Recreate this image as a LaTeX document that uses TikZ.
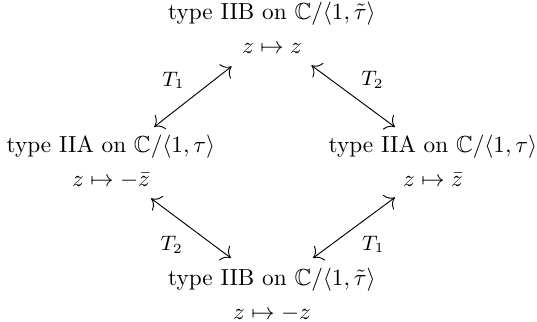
\documentclass[tikz,border=0pt]{standalone}
\usepackage{amsmath,amssymb}
\usepackage{tikz}
\usetikzlibrary{arrows.meta, positioning, calc}
\tikzset{
  dual-title/.style={inner sep=0pt, anchor=base},
  dual-map/.style={inner sep=0pt, text height=1.5ex, text depth=.25ex},
  dual-flow/.style={{To[scale=1.5]}-{To[scale=1.5]}, thin},
  dual-lbl/.style={font=\small},
}

\begin{document}
\begin{tikzpicture}[x=0.43pt, y=0.43pt, node distance=5pt]
  \useasboundingbox (0,0) rectangle (537,321);
  % the four theories
  \node[dual-title] (iib)  at (272,301) {type IIB on $\mathbb{C}/\langle 1,\tilde{\tau}\rangle$};
  \node[dual-map, below=of iib]   (iibmap)  {$z\mapsto z$};
  \node[dual-title] (iiaL) at (111,168) {type IIA on $\mathbb{C}/\langle 1,\tau\rangle$};
  \node[dual-map, below=of iiaL]  (iiaLmap) {$z\mapsto -\bar{z}$};
  \node[dual-title] (iiaR) at (433,168) {type IIA on $\mathbb{C}/\langle 1,\tau\rangle$};
  \node[dual-map, below=of iiaR]  (iiaRmap) {$z\mapsto \bar{z}$};
  \node[dual-title] (iibB) at (272,35)  {type IIB on $\mathbb{C}/\langle 1,\tilde{\tau}\rangle$};
  \node[dual-map, below=of iibB]  (iibBmap) {$z\mapsto -z$};

  % T-dualities
  \draw[dual-flow] ([shift={(-10,-10)}]iibmap.south west)
    -- node[dual-lbl, above left] {$T_1$} ([shift={(43,8)}]iiaL.north);
  \draw[dual-flow] ([shift={(9,-9)}]iibmap.south east)
    -- node[dual-lbl, above right] {$T_2$} ([shift={(-38,8)}]iiaR.north);
  \draw[dual-flow] ([shift={(40,-9)}]iiaLmap.south)
    -- node[dual-lbl, below left] {$T_2$} ([shift={(-41,10)}]iibB.north);
  \draw[dual-flow] ([shift={(-38,-8)}]iiaRmap.south)
    -- node[dual-lbl, below right] {$T_1$} ([shift={(41,10)}]iibB.north);
\end{tikzpicture}
\end{document}
